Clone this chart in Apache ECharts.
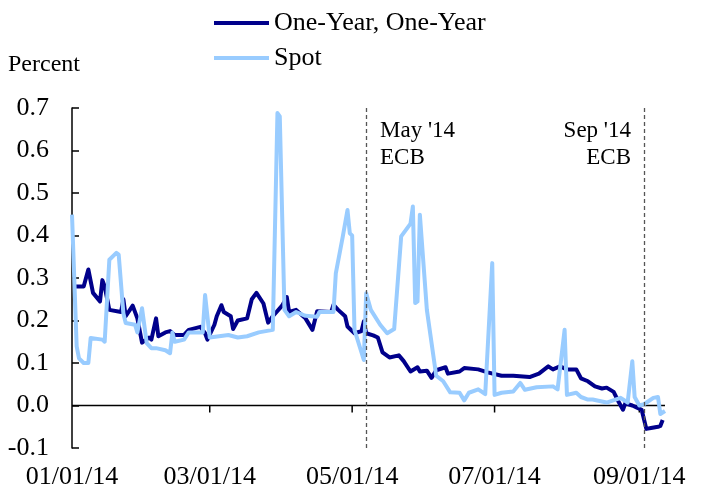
<!DOCTYPE html>
<html>
<head>
<meta charset="utf-8">
<script src="https://cdn.jsdelivr.net/npm/echarts@6/dist/echarts.min.js"></script>
<style>
  html, body { margin: 0; padding: 0; background: #fff; }
  #container { width: 704px; height: 493px; }
</style>
</head>
<body>
<div id="container"></div>
<script>
var FONT = "'Liberation Serif', 'Times New Roman', serif";

// One-Year, One-Year forward
var oneYearDates = ['2014-01-02','2014-01-06','2014-01-08','2014-01-10','2014-01-13','2014-01-14','2014-01-15','2014-01-17','2014-01-22','2014-01-23','2014-01-24','2014-01-27','2014-01-29','2014-01-31',
    '2014-02-03','2014-02-04','2014-02-06','2014-02-07','2014-02-10','2014-02-12','2014-02-14','2014-02-18','2014-02-20','2014-02-25','2014-02-27','2014-02-28',
    '2014-03-03','2014-03-04','2014-03-06','2014-03-07','2014-03-10','2014-03-11','2014-03-13','2014-03-17','2014-03-19','2014-03-21','2014-03-24','2014-03-26','2014-03-28',
    '2014-04-01','2014-04-03','2014-04-04','2014-04-07','2014-04-10','2014-04-11','2014-04-14','2014-04-16','2014-04-22','2014-04-23','2014-04-25','2014-04-28','2014-04-29',
    '2014-05-02','2014-05-05','2014-05-06','2014-05-07','2014-05-10','2014-05-12','2014-05-14','2014-05-17','2014-05-21','2014-05-23','2014-05-26','2014-05-29','2014-05-30',
    '2014-06-02','2014-06-04','2014-06-06','2014-06-10','2014-06-11','2014-06-16','2014-06-18','2014-06-24','2014-06-28',
    '2014-07-04','2014-07-09','2014-07-16','2014-07-20','2014-07-24','2014-07-26','2014-07-29',
    '2014-08-01','2014-08-05','2014-08-07','2014-08-10','2014-08-13','2014-08-16','2014-08-18','2014-08-21','2014-08-23','2014-08-25','2014-08-26','2014-08-29','2014-08-31',
    '2014-09-02','2014-09-04','2014-09-06','2014-09-09','2014-09-10','2014-09-11'];
var oneYearValues = [0.28,0.28,0.32,0.265,0.245,0.295,0.28,0.225,0.22,0.25,0.21,0.235,0.205,0.148,
    0.16,0.155,0.205,0.163,0.172,0.175,0.166,0.166,0.178,0.185,0.17,0.155,
    0.19,0.21,0.236,0.22,0.21,0.18,0.2,0.205,0.25,0.265,0.24,0.195,0.21,
    0.235,0.255,0.22,0.225,0.21,0.205,0.178,0.222,0.22,0.237,0.225,0.21,0.186,
    0.17,0.175,0.198,0.17,0.165,0.16,0.125,0.113,0.118,0.105,0.08,0.09,0.08,
    0.082,0.065,0.083,0.09,0.075,0.08,0.088,0.085,0.078,
    0.07,0.07,0.067,0.075,0.092,0.085,0.092,
    0.085,0.085,0.064,0.057,0.045,0.04,0.042,0.032,0.01,-0.01,0.005,0.0,-0.005,
    -0.01,-0.055,-0.053,-0.05,-0.048,-0.034];

// Spot
var spotDates = ['2014-01-01','2014-01-03','2014-01-04','2014-01-06','2014-01-08','2014-01-09','2014-01-14','2014-01-15','2014-01-17','2014-01-20','2014-01-21','2014-01-23','2014-01-24','2014-01-28','2014-01-29','2014-01-31',
    '2014-02-02','2014-02-04','2014-02-06','2014-02-10','2014-02-12','2014-02-13','2014-02-14','2014-02-18','2014-02-20','2014-02-26','2014-02-27',
    '2014-03-01','2014-03-05','2014-03-09','2014-03-13','2014-03-17','2014-03-22','2014-03-28','2014-03-30','2014-03-31',
    '2014-04-02','2014-04-04','2014-04-07','2014-04-11','2014-04-16','2014-04-17','2014-04-23','2014-04-24','2014-04-27','2014-04-29','2014-04-30',
    '2014-05-01','2014-05-02','2014-05-06','2014-05-07','2014-05-09','2014-05-13','2014-05-16','2014-05-19','2014-05-22','2014-05-26','2014-05-27','2014-05-28','2014-05-29','2014-05-30',
    '2014-06-02','2014-06-06','2014-06-09','2014-06-12','2014-06-16','2014-06-18','2014-06-20','2014-06-24','2014-06-27','2014-06-30',
    '2014-07-01','2014-07-04','2014-07-09','2014-07-12','2014-07-14','2014-07-19','2014-07-26','2014-07-28','2014-07-31',
    '2014-08-01','2014-08-05','2014-08-07','2014-08-10','2014-08-12','2014-08-18','2014-08-24','2014-08-27','2014-08-29','2014-08-30',
    '2014-09-01','2014-09-03','2014-09-07','2014-09-09','2014-09-10','2014-09-12'];
var spotValues = [0.449,0.139,0.111,0.1,0.1,0.159,0.155,0.15,0.343,0.359,0.355,0.217,0.194,0.19,0.172,0.229,
    0.147,0.135,0.135,0.13,0.123,0.172,0.15,0.155,0.172,0.172,0.26,
    0.16,0.163,0.166,0.16,0.163,0.172,0.178,0.688,0.68,
    0.225,0.21,0.22,0.211,0.209,0.22,0.22,0.311,0.398,0.46,0.405,
    0.4,0.178,0.107,0.264,0.225,0.19,0.17,0.18,0.398,0.428,0.468,0.241,0.245,0.449,
    0.225,0.07,0.057,0.031,0.03,0.012,0.03,0.038,0.027,0.335,
    0.025,0.03,0.033,0.053,0.037,0.043,0.045,0.038,0.178,
    0.025,0.03,0.02,0.014,0.014,0.007,0.018,0.007,0.104,0.02,
    0.0,0.003,0.018,0.02,-0.02,-0.013];

// axis settings
var xStart = '2014-01-01';
var xEnd = '2014-09-12';
var xTickDates = ['2014-01-01','2014-03-01','2014-05-01','2014-07-01','2014-09-01'];
var ecbDates = ['2014-05-07','2014-09-03'];
var ecbLabels = ["May '14\nECB", "Sep '14\nECB"];

function ts(s) {
    var p = s.split('-');
    return new Date(+p[0], +p[1] - 1, +p[2]).getTime();
}
function pad(n) { return (n < 10 ? '0' : '') + n; }

var dom = document.getElementById("container");
var myChart = echarts.init(dom, null, {renderer: 'canvas'});

var tickValues = xTickDates.map(ts);

var option = {
    backgroundColor: '#ffffff',
    animation: false,
    textStyle: {fontFamily: FONT, color: '#000'},
    grid: {left: 72, right: 39, top: 108, bottom: 45},
    legend: {
        orient: 'vertical',
        left: 209,
        top: 5,
        itemWidth: 55,
        itemHeight: 4,
        itemGap: 9,
        icon: 'rect',
        textStyle: {fontFamily: FONT, fontSize: 26, color: '#000'},
        data: ['One-Year, One-Year', 'Spot']
    },
    graphic: [
        {type: 'text', left: 8, top: 53, style: {text: 'Percent', font: '24px ' + FONT, fill: '#000'}},
        {type: 'text', style: {text: ecbLabels[0], x: 380, y: 117, textAlign: 'left', textVerticalAlign: 'top', font: '23px ' + FONT, lineHeight: 27, fill: '#000'}},
        {type: 'text', style: {text: ecbLabels[1], x: 631, y: 117, textAlign: 'right', textVerticalAlign: 'top', font: '23px ' + FONT, lineHeight: 27, fill: '#000'}}
    ],
    xAxis: {
        type: 'value',
        min: ts(xStart),
        max: ts(xEnd),
        axisLine: {show: false, onZero: false},
        axisTick: {show: false},
        splitLine: {show: false},
        axisLabel: {
            customValues: tickValues,
            margin: 16,
            fontFamily: FONT,
            fontSize: 26,
            color: '#000',
            formatter: function (v) {
                var d = new Date(v);
                return pad(d.getMonth() + 1) + '/' + pad(d.getDate()) + '/' + String(d.getFullYear()).slice(2);
            }
        }
    },
    yAxis: {
        type: 'value',
        min: -0.1,
        max: 0.7,
        interval: 0.1,
        axisLine: {show: true, onZero: false, lineStyle: {color: '#000', width: 1.5}},
        axisTick: {show: true, inside: true, length: 7, lineStyle: {color: '#000', width: 1.5}},
        splitLine: {show: false},
        axisLabel: {
            margin: 23,
            fontFamily: FONT,
            fontSize: 26,
            color: '#000',
            formatter: function (v) { return v.toFixed(1); }
        }
    },
    series: [
        {
            // horizontal axis line at zero, with ticks hanging below it
            name: 'zero-axis',
            type: 'custom',
            silent: true,
            z: 1,
            data: tickValues.map(function (t) { return [t, 0]; }),
            encode: {x: 0, y: 1},
            renderItem: function (params, api) {
                var p = api.coord([api.value(0), 0]);
                var children = [];
                if (params.dataIndex === 0) {
                    var end = api.coord([ts(xEnd), 0]);
                    children.push({type: 'line', shape: {x1: p[0], y1: p[1], x2: end[0], y2: end[1]},
                        style: {stroke: '#000', lineWidth: 1.5}});
                } else {
                    children.push({type: 'line', shape: {x1: p[0], y1: p[1], x2: p[0], y2: p[1] + 7},
                        style: {stroke: '#000', lineWidth: 1.5}});
                }
                return {type: 'group', children: children};
            }
        },
        {
            name: 'One-Year, One-Year',
            type: 'line',
            showSymbol: false,
            symbol: 'none',
            color: '#00008B',
            lineStyle: {width: 4, color: '#00008B', join: 'round'},
            data: oneYearDates.map(function (d, i) { return [ts(d), oneYearValues[i]]; }),
            markLine: {
                silent: true,
                symbol: 'none',
                label: {show: false},
                lineStyle: {color: '#555', width: 1.3, type: [4, 3]},
                data: ecbDates.map(function (d) { return {xAxis: ts(d)}; })
            },
            z: 2
        },
        {
            name: 'Spot',
            type: 'line',
            showSymbol: false,
            symbol: 'none',
            color: '#99CCFF',
            lineStyle: {width: 4, color: '#99CCFF', join: 'round'},
            data: spotDates.map(function (d, i) { return [ts(d), spotValues[i]]; }),
            z: 3
        }
    ]
};

if (option && typeof option === "object") {
    myChart.setOption(option, true);
}
</script>
</body>
</html>
